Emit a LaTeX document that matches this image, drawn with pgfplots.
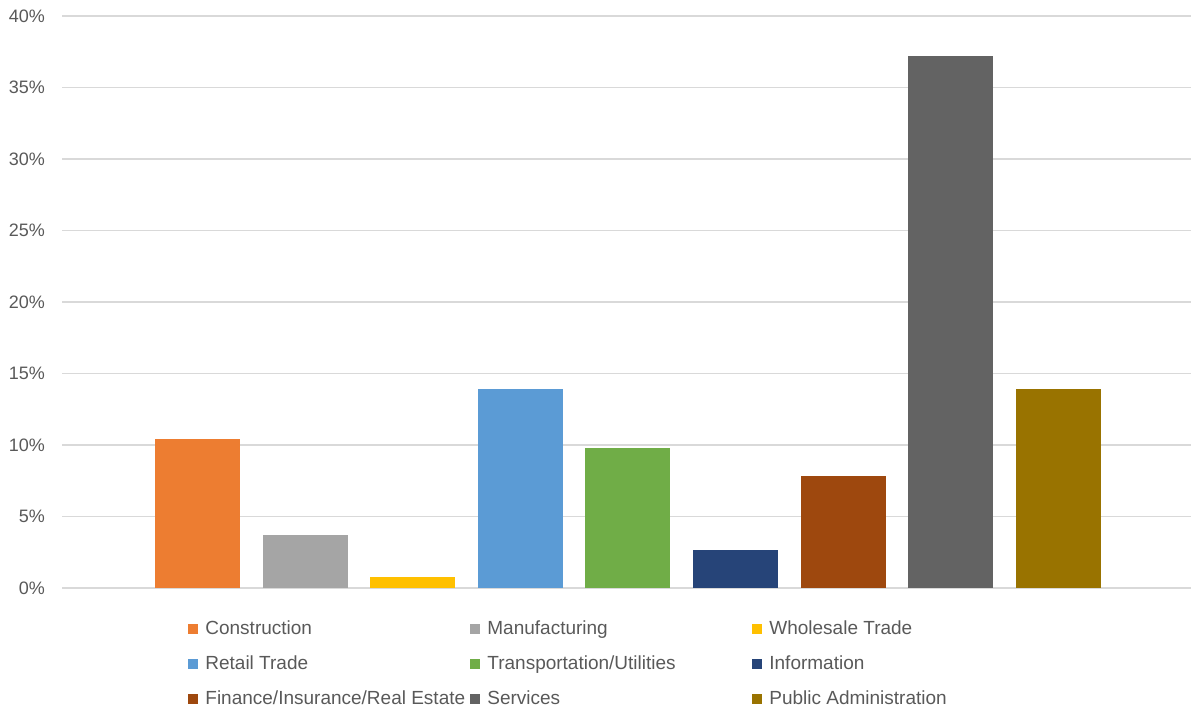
\documentclass[border=0pt]{standalone}
\usepackage{pgfplots}
\pgfplotsset{compat=1.18}
\usepackage{fontspec}
\setmainfont{Liberation Sans}
\definecolor{txt}{HTML}{595959}
\definecolor{gridc}{HTML}{D9D9D9}
\definecolor{c1}{HTML}{ED7D31}
\definecolor{c2}{HTML}{A5A5A5}
\definecolor{c3}{HTML}{FFC000}
\definecolor{c4}{HTML}{5B9BD5}
\definecolor{c5}{HTML}{70AD47}
\definecolor{c6}{HTML}{264478}
\definecolor{c7}{HTML}{9E480E}
\definecolor{c8}{HTML}{636363}
\definecolor{c9}{HTML}{997300}
\newcommand{\lb}[1]{\makebox[130.5pt][l]{#1}}
\begin{document}
\begin{tikzpicture}
\useasboundingbox (0,0) rectangle (595.5pt,355.5pt);
\begin{axis}[
  at={(31pt,61.5pt)}, anchor=south west,
  scale only axis, width=564.5pt, height=286pt,
  xmin=-1.259, xmax=9.233, ymin=0, ymax=40,
  axis line style={draw=none},
  xtick=\empty,
  ytick={0,5,10,15,20,25,30,35,40},
  yticklabels={0\%,5\%,10\%,15\%,20\%,25\%,30\%,35\%,40\%},
  major tick length=0pt,
  ymajorgrids, grid style={gridc, line width=0.6pt},
  tick label style={font=\fontsize{9}{10}\selectfont, text=txt},
  yticklabel style={xshift=-5pt},
  every axis plot/.append style={ybar, bar width=42.5pt, bar shift=0pt, draw=none},
  legend image code/.code={\fill[#1] (0pt,-2.5pt) rectangle (5pt,2.5pt);},
  legend columns=3,
  legend style={at={(axis description cs:0.1116,0)}, anchor=north west, yshift=-14.25pt,
    draw=none, fill=none, inner sep=0pt, column sep=0pt, row sep=5pt,
    font=\fontsize{9.5}{10}\selectfont, text=txt,
    cells={anchor=west, inner xsep=0pt, inner ysep=0pt, text height=7pt, text depth=2pt},
    /tikz/every odd column/.append style={column sep=1.5pt}},
]
\addplot[fill=c1] coordinates {(0,10.4)};
\addlegendentry{\lb{Construction}}
\addplot[fill=c2] coordinates {(1,3.7)};
\addlegendentry{\lb{Manufacturing}}
\addplot[fill=c3] coordinates {(2,0.75)};
\addlegendentry{\lb{Wholesale Trade}}
\addplot[fill=c4] coordinates {(3,13.9)};
\addlegendentry{\lb{Retail Trade}}
\addplot[fill=c5] coordinates {(4,9.8)};
\addlegendentry{\lb{Transportation/Utilities}}
\addplot[fill=c6] coordinates {(5,2.65)};
\addlegendentry{\lb{Information}}
\addplot[fill=c7] coordinates {(6,7.85)};
\addlegendentry{\lb{Finance/Insurance/Real Estate}}
\addplot[fill=c8] coordinates {(7,37.2)};
\addlegendentry{\lb{Services}}
\addplot[fill=c9] coordinates {(8,13.9)};
\addlegendentry{\lb{Public Administration}}
\end{axis}
\end{tikzpicture}
\end{document}
